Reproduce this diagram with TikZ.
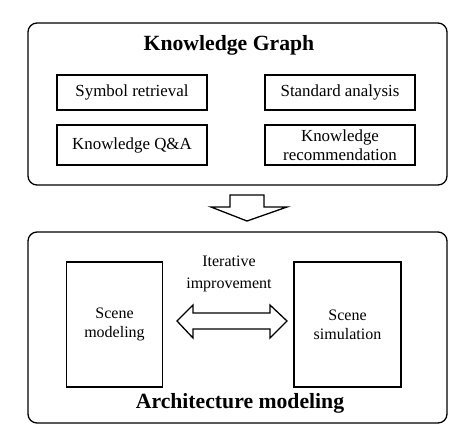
\documentclass[tikz,border=0pt]{standalone}
\usepackage{fontspec}
\setmainfont{Liberation Serif}
\usepackage{tikz}
\usepackage{xcolor}

\tikzset{
	outerbox/.style={draw,rounded corners=9pt,line width=1.3pt,minimum width=419pt},
	titletext/.style={font=\bfseries\fontsize{21.7}{23}\selectfont},
	funcbox/.style={draw,line width=1.8pt,minimum width=150pt,align=center,font=\fontsize{16.9}{19.5}\selectfont},
	scenebox/.style={draw,line width=1.3pt,minimum width=96pt,minimum height=125pt,align=center,font=\fontsize{16}{19}\selectfont},
	bigarrow/.style={draw,fill=white,line width=1.3pt,line join=miter}
}

\begin{document}
\begin{tikzpicture}[x=1pt,y=-1pt]
	\useasboundingbox (0,0) rectangle (474,437);
	% knowledge graph
	\node[outerbox,minimum height=162pt] (kg) at (237.5,104) {};
	\node[titletext] (kgtitle) at (229,45) {Knowledge Graph};
	\node[funcbox,minimum height=35pt] (symbol) at (132,92.5) {Symbol retrieval};
	\node[funcbox,minimum height=35pt] (standard) at (340,92.5) {Standard analysis};
	\node[funcbox,minimum height=40pt] (qa) at (132,145) {Knowledge Q\&A};
	\node[funcbox,minimum height=40pt,inner sep=0pt] (recommend) at (340,145) {Knowledge\\recommendation};
	% arrow between
	\draw[bigarrow] (230,195) -- (264,195) -- (264,207) -- (287,207) -- (247,221) -- (211,207) -- (230,207) -- cycle;
	% architecture modeling
	\node[outerbox,minimum height=191pt] (am) at (237.5,327.5) {};
	\node[scenebox] (modeling) at (114.5,324.5) {Scene\\modeling};
	\node[scenebox,minimum width=107pt] (simulation) at (347.5,324.5) {Scene\\simulation};
	\node[align=center,font=\fontsize{16}{22}\selectfont] (iter) at (229,274) {Iterative\\improvement};
	\draw[bigarrow] (177,321) -- (193,305) -- (193,313) -- (270,313) -- (270,305) -- (287,321) -- (270,338) -- (270,329) -- (193,329) -- (193,338) -- cycle;
	\node[titletext] (amtitle) at (240,403) {Architecture modeling};
\end{tikzpicture}
\end{document}
